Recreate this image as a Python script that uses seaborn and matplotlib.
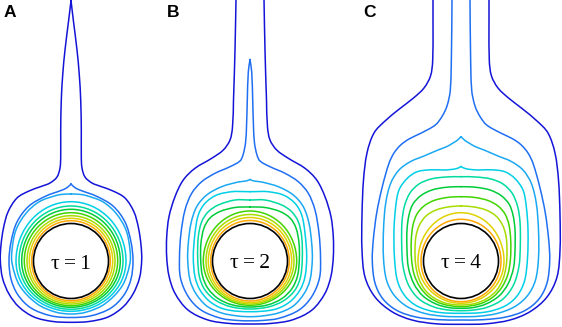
import numpy as np
import seaborn as sns
import matplotlib
matplotlib.use("Agg")
import matplotlib.pyplot as plt
from matplotlib.path import Path
from matplotlib.patches import PathPatch, Arc, Circle

# panels
panel_labels = ["A", "B", "C"]
label_x = [4, 166.5, 363]
taus = [1, 2, 4]
centers_x = [71, 250, 461]
center_y = 261
radius = 37.5
tau_baseline = [269, 268.5, 267.5]

# contour colours, outermost level first
level_colors = ["#1414d8", "#1f6ff2", "#1aa8f2", "#00cfe6", "#00dba0",
                "#00cc3a", "#40d400", "#a6dc00", "#e0d200", "#ffa600"]

# right half of each outer contour: (dx from axis, y pixel), top -> bottom
a1 = [(0, 0.5), (2.3, 20), (6, 50), (8.3, 75), (9.7, 100), (10.3, 130), (10.3, 157),
      (11, 168), (14, 177), (21, 183), (30, 186.5), (42, 191), (54, 198), (63, 212),
      (67.5, 228), (70, 245), (70.7, 260), (68.5, 278), (62, 294), (52, 307), (37, 317),
      (18, 321.5), (0, 322.3)]
a2 = [(0, 184), (2, 186), (5, 188.3), (10, 190.5), (25, 196), (42, 206), (54, 222),
      (60, 242), (62, 261), (60, 279), (53, 295), (40, 308), (20, 315.8), (0, 317.5)]
a3 = [(0, 194), (8, 194.3), (15, 195.5), (31.7, 201.7), (45, 213.3), (55, 230),
      (59, 250), (58.8, 264), (51.1, 286), (33.8, 303.9), (15.3, 312.1), (0, 314)]
a_paths = [a1, a2, a3]
a_kinds = ["cusp", "cusp", "closed"]
# inner, nearly elliptical contours: top y, half width, bottom y
a_arc_top = [201.7, 206, 209.3, 212.7, 215.7, 218.3, 220.7]
a_arc_side = [55, 52, 49.3, 46.7, 44, 41.7, 39.3]
a_arc_bottom = [311.3, 309.3, 307.3, 305.7, 304, 302.3, 300.7]

b1 = [(14, -1), (15, 50), (16.5, 100), (17.5, 127), (20, 140), (26.7, 150), (38.3, 158.3),
      (55, 168.3), (66.7, 180), (75, 196.7), (81, 216.7), (83.3, 237), (83.3, 257),
      (81, 276), (75, 293.3), (62, 310), (42, 320), (20, 323.5), (0, 324)]
b2 = [(0, 59.5), (1.7, 72), (2.7, 100), (3.5, 127), (4.5, 143), (7, 155), (10, 161),
      (20, 166.7), (35, 173.3), (48.3, 181.7), (58.3, 193.3), (65, 210), (69, 233.3),
      (70.5, 256.7), (69.5, 278), (61.7, 296.7), (49, 310), (29, 318.3), (12, 320.5),
      (0, 320.8)]
b3 = [(0, 179.5), (4, 181), (11.7, 182), (28.3, 186.7), (43.3, 195), (53.3, 206.7),
      (59, 223.3), (61.7, 243.3), (62.3, 260), (60, 280), (54.3, 293.3), (43.3, 306),
      (28.3, 313), (12, 316), (0, 316.7)]
b4 = [(0, 191.7), (10, 191.5), (18.3, 191.7), (33.3, 195), (45, 203.3), (51.7, 215),
      (55, 233.3), (56.7, 256.7), (55, 276.7), (50, 290), (40, 301.7), (25, 309.3), (0, 311.7)]
b5 = [(0, 200), (15, 200), (31.7, 205), (41.7, 211.7), (48.3, 221.7), (51.7, 236.7),
      (52.3, 258), (50.5, 277), (45, 290), (34, 300.5), (19, 306.8), (0, 309)]
b6 = [(0, 207), (15, 207.5), (30, 211.5), (40, 218), (46, 228), (49, 243), (49.3, 260),
      (47.5, 276), (42, 288.5), (32, 298.5), (18, 304.8), (0, 307)]
b_paths = [b1, b2, b3, b4, b5, b6]
b_kinds = ["open", "cusp", "cusp", "closed", "closed", "closed"]
b_arc_top = [211, 214.5, 217.5, 220.5]
b_arc_side = [46.7, 44, 41.7, 39.3]
b_arc_bottom = [305.3, 304, 302.7, 301]

c1 = [(28, -1), (28.3, 60), (30.5, 76), (37, 88), (47.5, 98), (61, 108.5), (76, 121),
      (87, 133), (94, 153), (97.5, 180), (99, 215), (99, 250), (96, 277), (86, 297),
      (69, 311.7), (49, 320), (25, 323.8), (0, 324.3)]
c2 = [(9, -1), (9.5, 50), (10.7, 90), (14, 106), (19, 116.5), (25.7, 125), (40.3, 133.3),
      (52, 139), (60.3, 145), (67, 153), (72, 163.3), (78.7, 186.7), (84.3, 213),
      (87.7, 240), (88.7, 261), (86, 283), (78, 299), (64, 310.5), (45, 317), (22, 319.7),
      (0, 320)]
c3 = [(0, 136.7), (4, 140.5), (8, 143), (14, 146.5), (23, 150), (37, 156), (50.3, 161.5),
      (62, 170), (70.3, 183.3), (75.3, 203.3), (77.5, 230), (77.5, 258), (74.5, 280),
      (67, 295), (54, 306.5), (36, 313.5), (17, 316.3), (0, 316.7)]
c4 = [(0, 166.5), (4, 168.5), (10, 169.5), (17, 170), (30.3, 169.8), (43.7, 171.7),
      (53.7, 178.3), (62, 190), (65.3, 206.7), (67, 230), (66.5, 258), (63.5, 281),
      (56, 296), (44, 306), (25, 312), (0, 313.3)]
c5 = [(0, 176.7), (15, 177), (30, 179), (42, 184), (51, 193), (56.5, 206), (59, 222),
      (59.3, 245), (58, 266), (52.5, 285), (42, 299), (27, 307), (13, 310), (0, 310.7)]
c6 = [(0, 186.7), (15, 187.3), (29, 190), (40, 195.5), (48, 204), (52, 215), (54, 230),
      (54, 250), (52.5, 268), (47, 284), (38, 296), (25, 304), (12, 307.6), (0, 308.3)]
c7 = [(0, 196.7), (14, 197.5), (27, 200.5), (37, 206), (44, 214), (48, 225), (49.7, 240),
      (49.5, 258), (47, 274), (41, 287), (32, 297), (19, 303.8), (0, 306.7)]
c8 = [(0, 206), (13, 207), (25, 210), (35, 216), (41.5, 225), (45, 236), (46, 250),
      (45.3, 265), (42, 279), (35.5, 290.5), (26, 298.5), (14, 303.5), (0, 305)]
c_paths = [c1, c2, c3, c4, c5, c6, c7, c8]
c_kinds = ["open", "open", "cusp", "cusp", "closed", "closed", "closed", "closed"]
c_arc_top = [212.7, 219.3]
c_arc_side = [43, 40]
c_arc_bottom = [303.3, 301.7]


def outline(half, cx, kind):
    right = [(cx + dx, y) for dx, y in half]
    left = [(cx - dx, y) for dx, y in reversed(half[:-1])]
    pts = right + left
    if kind == "closed":
        pts = pts[:-1]
    return np.array(pts, float)


def smooth_path(P, closed):
    # piecewise cubic through the read points (tangent from neighbours)
    n = len(P)
    if closed:
        T = np.roll(P, -1, axis=0) - np.roll(P, 1, axis=0)
    else:
        T = np.empty_like(P)
        T[1:-1] = P[2:] - P[:-2]
        T[0] = P[1] - P[0]
        T[-1] = P[-1] - P[-2]
    T = T / np.linalg.norm(T, axis=1, keepdims=True)
    verts = [P[0]]
    codes = [Path.MOVETO]
    for i in range(n if closed else n - 1):
        j = (i + 1) % n
        d = np.linalg.norm(P[j] - P[i]) / 3
        verts += [P[i] + T[i] * d, P[j] - T[j] * d, P[j]]
        codes += [Path.CURVE4] * 3
    return Path(verts, codes)


sns.set_theme(style="white")
plt.rcParams["font.family"] = ["Liberation Sans", "DejaVu Sans"]
palette = sns.color_palette(level_colors)

fig = plt.figure(figsize=(5.62, 3.27), dpi=100)
ax = fig.add_axes([0, 0, 1, 1])
ax.set_xlim(0, 562)
ax.set_ylim(327, 0)
ax.axis("off")

panels = [
    (a_paths, a_kinds, a_arc_top, a_arc_side, a_arc_bottom),
    (b_paths, b_kinds, b_arc_top, b_arc_side, b_arc_bottom),
    (c_paths, c_kinds, c_arc_top, c_arc_side, c_arc_bottom),
]

lw = 1.1
for p, (paths, kinds, tops, sides, bottoms) in enumerate(panels):
    cx = centers_x[p]
    for i, (half, kind) in enumerate(zip(paths, kinds)):
        P = outline(half, cx, kind)
        ax.add_patch(PathPatch(smooth_path(P, kind == "closed"), fill=False,
                               edgecolor=palette[i], lw=lw, capstyle="round"))
    for j, (top, side, bottom) in enumerate(zip(tops, sides, bottoms)):
        col = palette[len(paths) + j]
        ax.add_patch(Arc((cx, center_y), 2 * side, 2 * (center_y - top),
                         theta1=180, theta2=360, edgecolor=col, lw=lw))
        ax.add_patch(Arc((cx, center_y), 2 * side, 2 * (bottom - center_y),
                         theta1=0, theta2=180, edgecolor=col, lw=lw))
    ax.add_patch(Circle((cx, center_y), radius, facecolor="white",
                        edgecolor="black", lw=1.2, zorder=3))
    ax.text(cx, tau_baseline[p], f"τ\u2009=\u2009{taus[p]}", ha="center", va="baseline",
            fontsize=15.5, color="black",
            family=["Liberation Serif", "DejaVu Serif"], zorder=4)
    ax.text(label_x[p], 17.3, panel_labels[p], ha="left", va="baseline",
            fontsize=12.5, fontweight="bold", color="black", zorder=4)

fig.savefig("out.png", dpi=100)
